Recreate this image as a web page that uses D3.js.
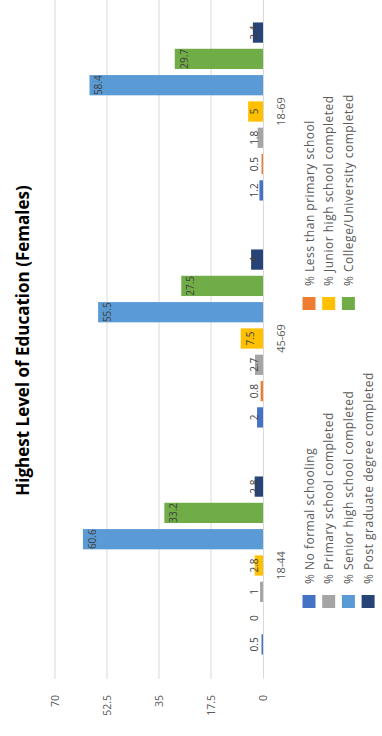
<!DOCTYPE html>
<html>
<head>
<meta charset="utf-8">
<script src="https://cdn.jsdelivr.net/npm/d3@7"></script>
<style>
  html, body { margin: 0; padding: 0; background: #ffffff; }
  svg { display: block; }
  text { font-family: "Open Sans", "Liberation Sans", sans-serif; }
</style>
</head>
<body>
<div id="chart"></div>
<script>
// Age groups along the category axis
const categories = ["18-44", "45-69", "18-69"];

// Series names (legend order)
const seriesNames = [
  "% No formal schooling",
  "% Less than primary school",
  "% Primary school completed",
  "% Junior high school completed",
  "% Senior high school completed",
  "% College/University completed",
  "% Post graduate degree completed"
];

// Percentages per age group
const noFormal    = [0.5, 2, 1.2];
const lessPrimary = [0, 0.8, 0.5];
const primary     = [1, 2.7, 1.8];
const juniorHigh  = [2.8, 7.5, 5];
const seniorHigh  = [60.6, 55.5, 58.4];
const college     = [33.2, 27.5, 29.7];
const postGrad    = [2.8, 4, 3.4];

const seriesColors = ["#4472C4", "#ED7D31", "#A5A5A5", "#FFC000", "#5B9BD5", "#70AD47", "#264478"];
const valueTicks = [0, 17.5, 35, 52.5, 70];

const seriesValues = [noFormal, lessPrimary, primary, juniorHigh, seniorHigh, college, postGrad];
const rows = categories.map((c, ci) => ({
  category: c,
  values: seriesNames.map((s, si) => ({ series: s, si, value: seriesValues[si][ci] }))
}));

const W = 382, H = 736;
// The chart is laid out in a landscape frame, then turned a quarter-turn counter-clockwise.
const plot = { left: 57, right: 738, top: 55, bottom: 263 };

const svg = d3.select("#chart").append("svg")
  .attr("width", W).attr("height", H);
svg.append("rect").attr("width", W).attr("height", H).attr("fill", "#ffffff");

const g = svg.append("g").attr("transform", `translate(0,${H}) rotate(-90)`);

const x0 = d3.scaleBand().domain(categories).range([plot.left, plot.right]).padding(0);
const x1 = d3.scaleBand().domain(d3.range(seriesNames.length))
  .range([0, x0.bandwidth()]).paddingInner(0.23).paddingOuter(0.93);
const y = d3.scaleLinear().domain([0, 70]).range([plot.bottom, plot.top]);

// Gridlines
g.append("g").selectAll("line")
  .data(valueTicks.filter(v => v > 0))
  .join("line")
  .attr("x1", plot.left).attr("x2", plot.right)
  .attr("y1", d => y(d)).attr("y2", d => y(d))
  .attr("stroke", "#D9D9D9").attr("stroke-width", 1);

// Value axis labels
const yAxis = g.append("g")
  .attr("transform", `translate(${plot.left},0)`)
  .call(d3.axisLeft(y).tickValues(valueTicks).tickFormat(d => String(d)).tickSize(0).tickPadding(16));
yAxis.select(".domain").remove();
yAxis.selectAll("text").attr("fill", "#595959").attr("font-size", 10.5);

// Bars
const groups = g.append("g").selectAll("g")
  .data(rows)
  .join("g")
  .attr("transform", d => `translate(${x0(d.category)},0)`);

groups.selectAll("rect")
  .data(d => d.values)
  .join("rect")
  .attr("x", d => x1(d.si))
  .attr("width", x1.bandwidth())
  .attr("y", d => y(d.value))
  .attr("height", d => y(0) - y(d.value))
  .attr("fill", d => seriesColors[d.si]);

// Data labels
groups.selectAll("text")
  .data(d => d.values)
  .join("text")
  .attr("x", d => x1(d.si) + x1.bandwidth() / 2)
  .attr("y", d => Math.min(y(d.value) + 9, y(0) - 9))
  .attr("text-anchor", "middle")
  .attr("dominant-baseline", "central")
  .attr("font-size", 10)
  .attr("fill", "#404040")
  .text(d => d.value);

// Category axis
const xAxis = g.append("g")
  .attr("transform", `translate(0,${plot.bottom})`)
  .call(d3.axisBottom(x0).tickSize(0).tickPadding(14));
xAxis.select(".domain").attr("stroke", "#D9D9D9");
xAxis.selectAll("text").attr("fill", "#595959").attr("font-size", 11);

// Title
g.append("text")
  .attr("x", (plot.left + plot.right) / 2 - 2)
  .attr("y", 29)
  .attr("text-anchor", "middle")
  .attr("font-size", 17)
  .attr("font-weight", "bold")
  .attr("fill", "#000000")
  .text("Highest Level of Education (Females)");

// Legend: two columns, filled row by row
const legend = g.append("g").selectAll("g")
  .data(seriesNames)
  .join("g")
  .attr("transform", (d, i) => `translate(${128 + (i % 2) * 298},${309 + Math.floor(i / 2) * 19.7})`);
legend.append("rect")
  .attr("x", 0).attr("y", -6.5)
  .attr("width", 13).attr("height", 13)
  .attr("fill", (d, i) => seriesColors[i]);
legend.append("text")
  .attr("x", 24).attr("y", 0)
  .attr("dominant-baseline", "central")
  .attr("font-size", 12)
  .attr("letter-spacing", 0.5)
  .attr("fill", "#595959")
  .text(d => d);
</script>
</body>
</html>
